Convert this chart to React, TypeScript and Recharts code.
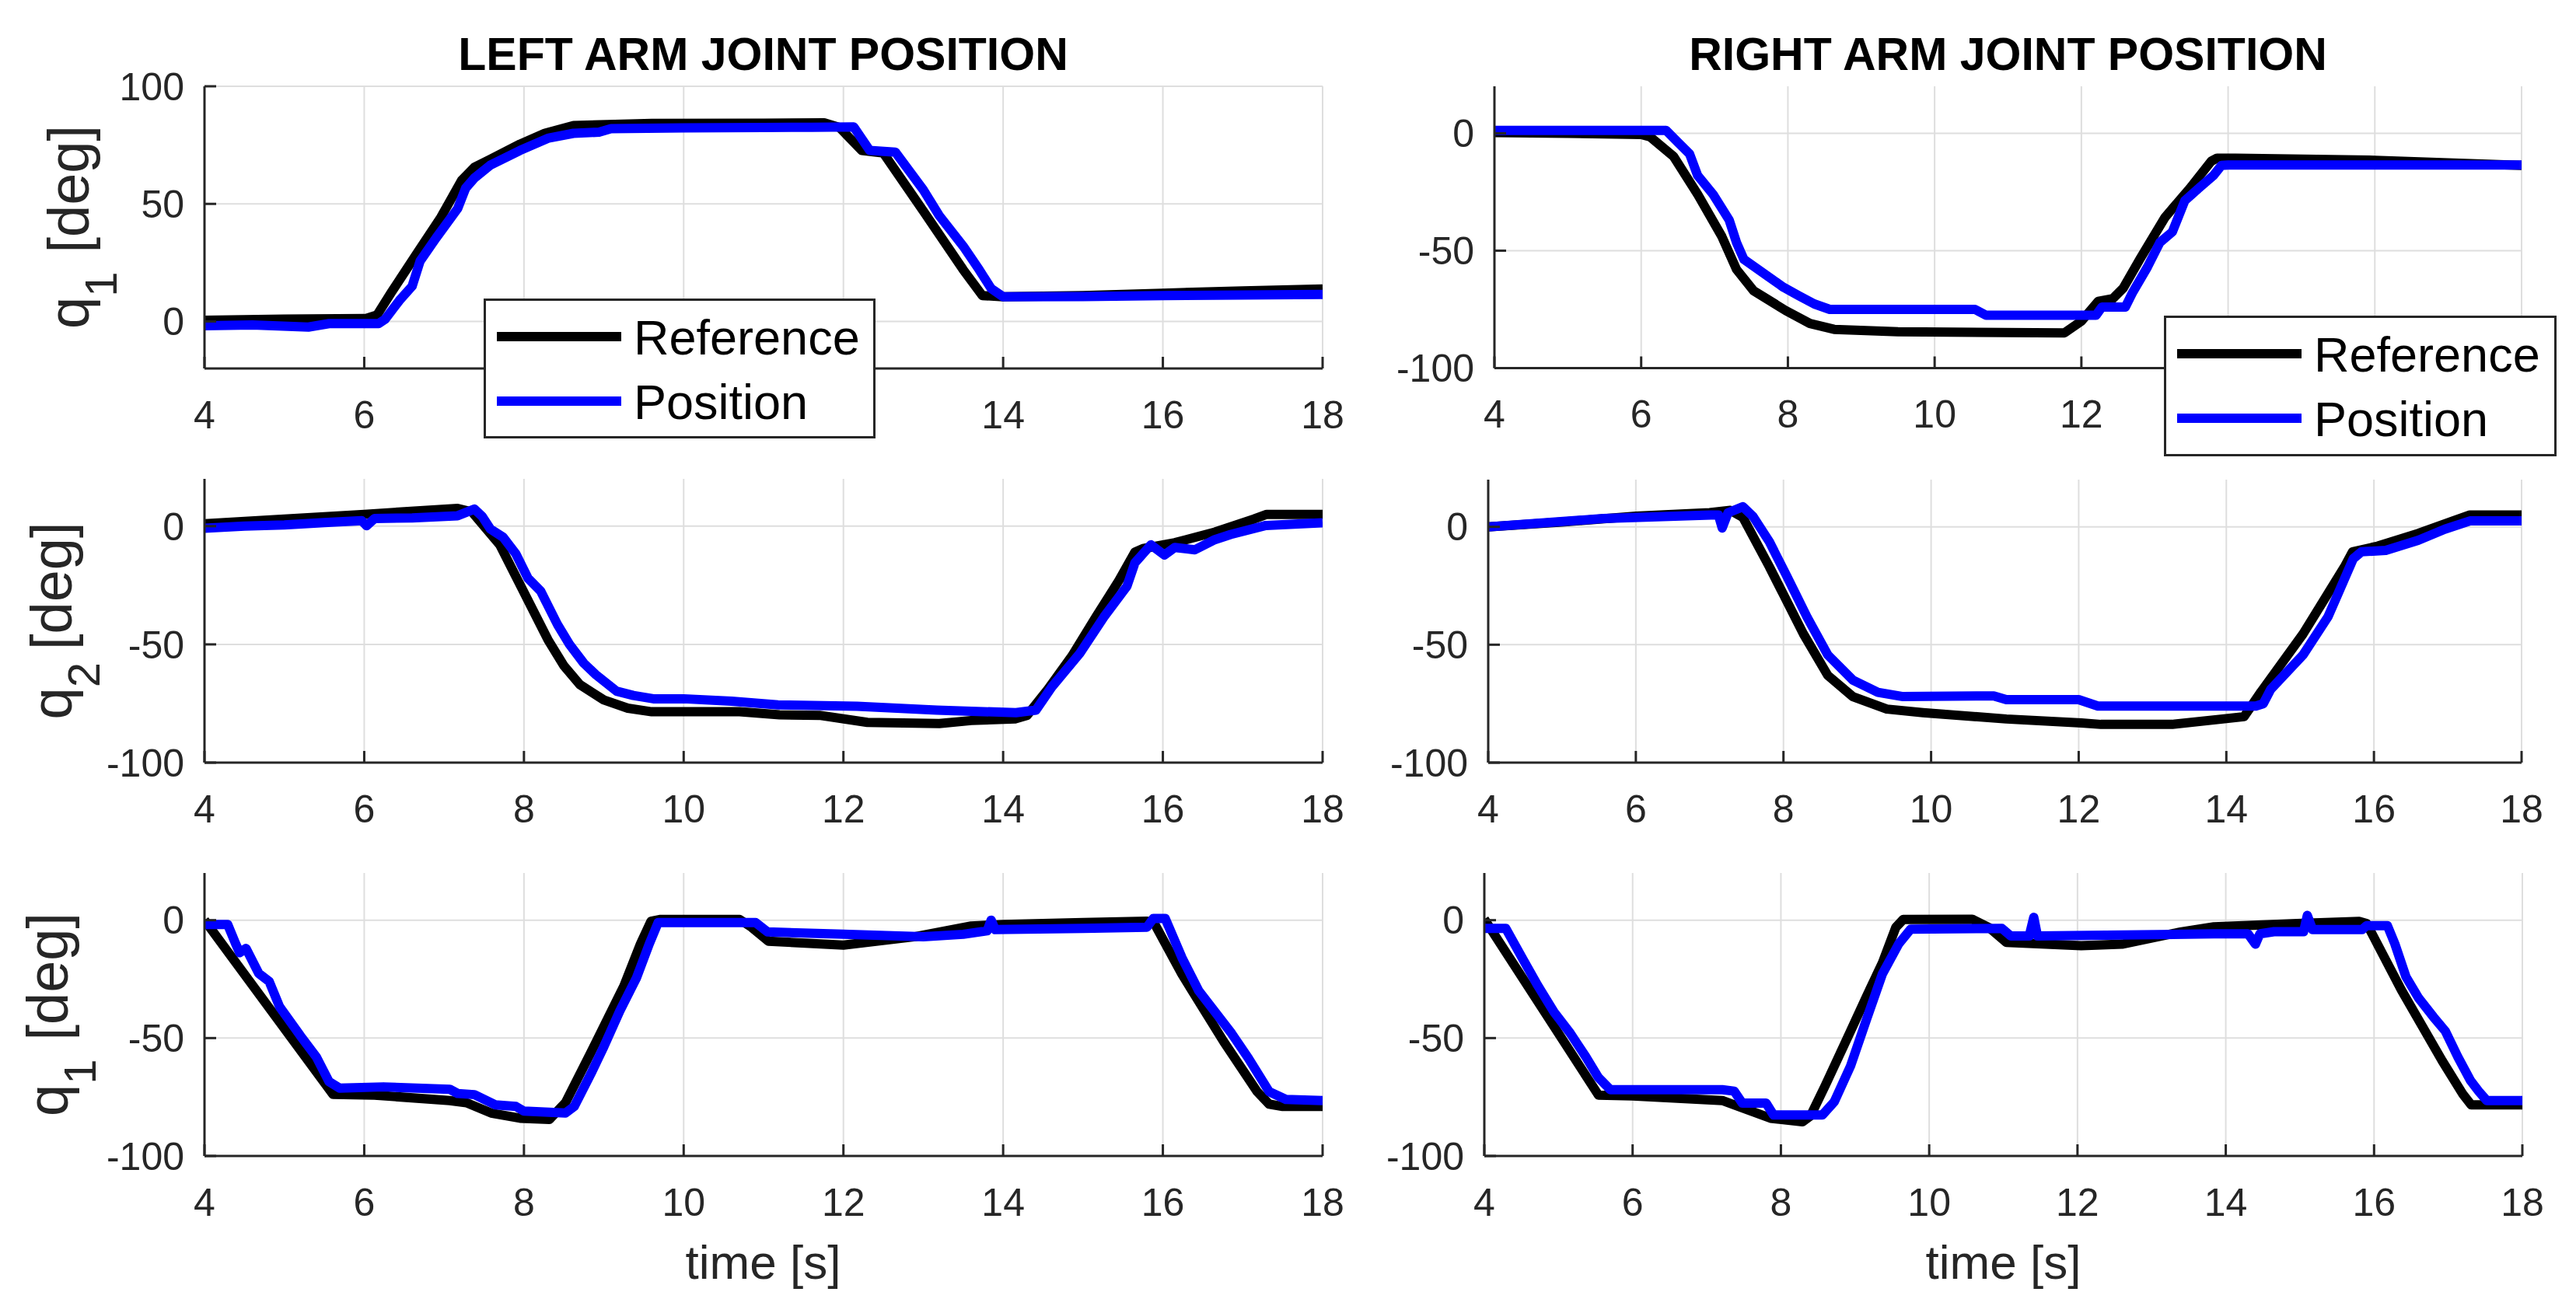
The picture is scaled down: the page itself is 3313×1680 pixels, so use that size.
import React from 'react';
import { LineChart, Line, XAxis, YAxis, CartesianGrid, Legend } from 'recharts';

type Pair = [number, number];

// ---------- axes / labels ----------
const TIME_TICKS = [4, 6, 8, 10, 12, 14, 16, 18];
const TIME_DOMAIN: [number, number] = [4, 18];
const UPPER_Y_TICKS = [0, 50, 100];
const UPPER_Y_DOMAIN: [number, number] = [-20, 100];
const LOWER_Y_TICKS = [-100, -50, 0];
const LOWER_Y_DOMAIN: [number, number] = [-100, 20];
const SERIES_NAMES = ['Reference', 'Position'];
const SERIES_COLORS = ['#000000', '#0000ff'];
const TITLES = ['LEFT ARM JOINT POSITION', 'RIGHT ARM JOINT POSITION'];
const X_LABEL = 'time [s]';
const Y_LABEL_SUBS = ['1', '2', '1'];
// tick labels hidden behind the legend boxes in the reference
const LEFT_LEGEND_COVERED_TICKS = [8, 10, 12];
const RIGHT_LEGEND_COVERED_TICKS = [14, 16, 18];

// ---------- data: [time s, angle deg] ----------
const leftQ1Reference: Pair[] = [[4,0.5],[5,1],[6,1.2],[6.03,1.3],[6.16,2.7],[6.34,12.4],[6.65,28.4],[6.96,44.3],[7.22,60],[7.38,65.6],[7.58,69],[7.95,75.4],[8.26,80],[8.62,83.3],[9.6,84.2],[11,84.3],[11.76,84.5],[11.95,82.5],[12.23,72.7],[12.5,71.6],[13,47],[13.5,22],[13.74,11],[14,10.5],[15,11],[16,12],[17,13],[18,13.8]];
const leftQ1Position: Pair[] = [[4,-1.8],[4.6,-1.5],[5.3,-2.4],[5.56,-0.9],[6.18,-0.9],[6.26,0.9],[6.44,8.9],[6.6,15],[6.7,25.7],[6.9,35.5],[7.17,48],[7.27,56.7],[7.38,61],[7.58,66.5],[7.95,72.7],[8.31,78],[8.62,80],[8.94,80.5],[9.09,82],[10,82.3],[11,82.5],[11.6,82.6],[12.13,82.7],[12.33,72.7],[12.65,72],[13,56],[13.2,45],[13.5,32],[13.7,22],[13.85,14],[14,10.5],[15,10.6],[16,11],[17,11.2],[18,11.5]];

const leftQ2Reference: Pair[] = [[4,1],[5,3],[6,5],[7.17,7.5],[7.35,6],[7.7,-8],[8,-28],[8.3,-48],[8.5,-59],[8.7,-67],[9,-73.5],[9.3,-77],[9.6,-78.5],[10.7,-78.5],[11.2,-79.8],[11.7,-80],[12.3,-83],[13.2,-83.5],[13.6,-82.2],[14.15,-81.5],[14.3,-80],[14.56,-69],[14.86,-55],[15.16,-38.5],[15.45,-23],[15.65,-11],[15.75,-9.5],[16.15,-7],[16.65,-2.5],[17.14,3],[17.3,5],[18,5]];
const leftQ2Position: Pair[] = [[4,-0.9],[4.5,0],[5,0.5],[5.5,1.5],[5.97,2.3],[6.03,0.2],[6.13,3.2],[6.6,3.5],[7.17,4.4],[7.38,7.2],[7.48,4],[7.58,-1.2],[7.74,-4.7],[7.9,-11.8],[8.05,-22],[8.21,-27.5],[8.42,-41.6],[8.57,-50],[8.75,-58],[8.9,-62.8],[9.16,-69.8],[9.37,-71.6],[9.62,-73],[10,-73],[10.6,-74],[11.18,-75.6],[12.17,-76.2],[13.17,-77.8],[14.16,-78.9],[14.41,-77.8],[14.61,-68],[14.96,-53.8],[15.26,-38.5],[15.55,-25.4],[15.65,-15.5],[15.85,-7.9],[16.02,-12.2],[16.15,-9],[16.4,-10],[16.65,-5.7],[16.85,-3.5],[17.29,0.3],[18,1.4]];

const leftQ3Reference: Pair[] = [[4,0],[5.61,-73.9],[6.13,-74.2],[7.07,-76.5],[7.28,-77.4],[7.59,-81.8],[7.95,-84],[8.32,-84.5],[8.52,-77.4],[8.84,-56],[9.25,-28],[9.46,-10],[9.59,-0.5],[9.7,0.3],[10.7,0.3],[10.85,-3],[11.06,-8.9],[12,-10.6],[12.9,-7],[13.6,-2.5],[14,-1.8],[15,-1],[15.8,-0.4],[15.9,-1.8],[16.24,-23],[16.76,-51.4],[17.18,-72.7],[17.33,-78],[17.5,-79],[18,-79]];
const leftQ3Position: Pair[] = [[4,-1.8],[4.29,-1.8],[4.39,-10],[4.44,-13.8],[4.52,-12],[4.68,-22.6],[4.81,-26],[4.94,-36.7],[5.2,-49],[5.4,-58],[5.56,-68.5],[5.69,-71.2],[6.24,-70.7],[7.07,-71.7],[7.17,-73.5],[7.38,-74],[7.64,-78.3],[7.9,-79],[8,-81],[8.52,-81.8],[8.63,-79],[8.84,-65],[8.99,-54.4],[9.2,-38.5],[9.41,-24.4],[9.57,-10],[9.68,-1],[10.9,-1],[11.05,-5],[12,-6],[13,-7],[13.5,-6],[13.8,-4.5],[13.85,0],[13.9,-4],[15,-3.5],[15.8,-3],[15.88,0.7],[16.03,0.7],[16.24,-16],[16.45,-30],[16.86,-48],[17.07,-58.5],[17.33,-72.7],[17.54,-76],[18,-76.5]];

const rightQ1Reference: Pair[] = [[4,0.3],[5,0],[6,-0.5],[6.12,-1.5],[6.44,-9.8],[6.77,-26],[7.1,-44],[7.3,-58],[7.53,-67],[7.97,-75.5],[8.3,-81],[8.63,-83.5],[9.5,-84.5],[11.77,-85],[12,-80],[12.23,-71.6],[12.43,-70.4],[12.57,-66],[12.8,-53.5],[13.14,-35.8],[13.48,-23.4],[13.77,-11.9],[13.85,-10.6],[14.1,-10.6],[16,-11.5],[18,-13.7]];
const rightQ1Position: Pair[] = [[4,1.2],[6.34,1.2],[6.5,-3.8],[6.66,-8.8],[6.77,-18],[6.98,-26],[7.2,-37],[7.3,-46.6],[7.4,-53.7],[7.73,-61],[7.94,-65.6],[8.15,-69.2],[8.36,-72.7],[8.57,-75],[9,-75],[10.55,-75],[10.7,-77.5],[12.2,-77.5],[12.28,-74],[12.6,-74],[12.7,-67.7],[12.9,-57],[13.07,-46.5],[13.24,-42],[13.41,-28.7],[13.6,-23.4],[13.8,-18],[13.91,-13.7],[14,-13.5],[18,-13.5]];

const rightQ2Reference: Pair[] = [[4,0],[5,2],[6,4.5],[7,6],[7.28,7],[7.45,4],[7.81,-17],[8.27,-45.4],[8.6,-63],[8.94,-72],[9.4,-77.3],[9.89,-78.8],[11.02,-81.5],[12.04,-83.2],[12.3,-83.8],[13.27,-83.8],[13.95,-81.5],[14.24,-80.5],[14.47,-70],[15.04,-45.4],[15.6,-17],[15.71,-10.6],[16.05,-8.2],[16.6,-2.8],[17.07,2.5],[17.3,5],[18,5]];
const rightQ2Position: Pair[] = [[4,0],[5.56,3.5],[7.02,5],[7.12,5],[7.17,-0.5],[7.25,6],[7.45,8.5],[7.59,4.3],[7.81,-6.4],[8.04,-20.6],[8.32,-38.3],[8.6,-54.3],[8.94,-65],[9.28,-70.2],[9.62,-72],[10.85,-71.7],[11.02,-73.3],[12,-73.3],[12.26,-76],[14.4,-76],[14.5,-75],[14.6,-69],[15.04,-54.3],[15.38,-38],[15.72,-13.5],[15.83,-10.6],[16.16,-10],[16.6,-5.7],[16.96,-1],[17.3,2.5],[18,2.5]];

const rightQ3Reference: Pair[] = [[4,0.5],[5.54,-74.2],[6,-74.5],[7.21,-76.5],[7.43,-79],[7.86,-84],[8.29,-85.5],[8.4,-83],[8.6,-70],[8.94,-47],[9.16,-32],[9.37,-18],[9.55,-3],[9.65,0.3],[10.58,0.4],[10.81,-3.2],[11.04,-9.4],[12.05,-10.8],[12.6,-10.2],[13.39,-5],[13.84,-2.8],[14.96,-1.4],[15.8,-0.5],[15.9,-1.4],[16.37,-29.7],[16.92,-59.7],[17.2,-73.9],[17.31,-78.3],[18,-78.3]];
const rightQ3Position: Pair[] = [[4,-3.5],[4.29,-3.5],[4.51,-16],[4.72,-27.7],[4.94,-39],[5.16,-48],[5.37,-58],[5.54,-66.8],[5.7,-71.9],[7.21,-71.9],[7.37,-72.5],[7.48,-77.6],[7.8,-77.6],[7.9,-82.6],[8.56,-82.6],[8.72,-77],[8.94,-61.8],[9.16,-41.6],[9.37,-22.7],[9.59,-10],[9.75,-3.8],[10.98,-3.5],[11.1,-6.7],[11.35,-6.7],[11.41,1.2],[11.46,-6.7],[13.84,-5.8],[14.3,-5.8],[14.4,-10.2],[14.46,-5.8],[14.65,-4.9],[15.05,-4.9],[15.1,2],[15.17,-4],[15.84,-4],[15.9,-2.3],[16.18,-2.3],[16.28,-10],[16.43,-24],[16.6,-33],[16.8,-41],[16.96,-47],[17.13,-58],[17.3,-68],[17.41,-72.5],[17.52,-76.5],[18,-76.5]];

// ---------- styling ----------
const FONT = '"Liberation Sans", Arial, Helvetica, sans-serif';
const AXIS_COLOR = '#262626';
const GRID_COLOR = '#dedede';
const LINE_WIDTH = 12;

const toRows = (pairs: Pair[]) => pairs.map(([t, v]) => ({ t, v }));

interface PanelSpec {
  left: number; top: number; width: number; height: number;
  ref: Pair[]; pos: Pair[];
  yDomain: [number, number]; yTicks: number[];
  legend?: { x: number; y: number; w: number; h: number };
  coveredTicks: number[];
  z: number;
}

const PANELS: PanelSpec[] = [
  { left: 262.5, top: 110.5, width: 1438, height: 363, ref: leftQ1Reference, pos: leftQ1Position, yDomain: UPPER_Y_DOMAIN, yTicks: UPPER_Y_TICKS, legend: { x: 621.5, y: 383.5, w: 504, h: 180 }, coveredTicks: LEFT_LEGEND_COVERED_TICKS, z: 3 },
  { left: 262.5, top: 616, width: 1438, height: 365, ref: leftQ2Reference, pos: leftQ2Position, yDomain: LOWER_Y_DOMAIN, yTicks: LOWER_Y_TICKS, coveredTicks: [], z: 2 },
  { left: 262.5, top: 1123, width: 1438, height: 364, ref: leftQ3Reference, pos: leftQ3Position, yDomain: LOWER_Y_DOMAIN, yTicks: LOWER_Y_TICKS, coveredTicks: [], z: 1 },
  { left: 1922, top: 110.5, width: 1321, height: 362.5, ref: rightQ1Reference, pos: rightQ1Position, yDomain: LOWER_Y_DOMAIN, yTicks: LOWER_Y_TICKS, legend: { x: 2782.5, y: 406, w: 505, h: 181 }, coveredTicks: RIGHT_LEGEND_COVERED_TICKS, z: 3 },
  { left: 1914, top: 617, width: 1329, height: 364, ref: rightQ2Reference, pos: rightQ2Position, yDomain: LOWER_Y_DOMAIN, yTicks: LOWER_Y_TICKS, coveredTicks: [], z: 2 },
  { left: 1909, top: 1123, width: 1335, height: 364, ref: rightQ3Reference, pos: rightQ3Position, yDomain: LOWER_Y_DOMAIN, yTicks: LOWER_Y_TICKS, coveredTicks: [], z: 1 },
];

const ML = 250;
const MT = 40;
const MR = 80;
const XH = 110;
const TICK_FONT = 50;

function LegendBox({ payload, w, h }: { payload?: any[]; w: number; h: number }) {
  const items = SERIES_NAMES.map((n, i) => {
    const found = (payload || []).find((p: any) => p && p.value === n);
    return { value: n, color: (found && found.color) || SERIES_COLORS[i] };
  });
  const rows = [49, 132];
  return (
    <svg width={w} height={h} style={{ display: 'block', overflow: 'visible' }}>
      <rect x={1.5} y={1.5} width={w - 3} height={h - 3} fill="#ffffff" stroke={AXIS_COLOR} strokeWidth={3} />
      {items.map((it, i) => (
        <g key={i}>
          <line x1={17} x2={177} y1={rows[i]} y2={rows[i]} stroke={it.color} strokeWidth={12} />
          <text x={193} y={rows[i] + 23} fontSize={63} fontFamily={FONT} fill="#000000">{it.value}</text>
        </g>
      ))}
    </svg>
  );
}

function makeXTick(covered: number[]) {
  return (props: any) => {
    const { x, y, payload } = props;
    if (covered.indexOf(payload.value) >= 0) return <g />;
    return (
      <text x={x} y={y} dy={TICK_FONT * 0.71} textAnchor="middle" fontSize={TICK_FONT} fontFamily={FONT} fill={AXIS_COLOR}>
        {payload.value}
      </text>
    );
  };
}

function Panel({ spec }: { spec: PanelSpec }) {
  const W = spec.width + ML + MR;
  const H = spec.height + MT + XH;
  const cLeft = spec.left - ML;
  const cTop = spec.top - MT;
  const tickStyle = { fill: AXIS_COLOR, fontSize: TICK_FONT, fontFamily: FONT };
  const lineStyle = { stroke: AXIS_COLOR, strokeWidth: 3 };
  return (
    <div style={{ position: 'absolute', left: cLeft, top: cTop, zIndex: spec.z }}>
      <LineChart width={W} height={H} margin={{ top: MT, right: MR, bottom: 0, left: 0 }}>
        <CartesianGrid stroke={GRID_COLOR} strokeWidth={2} horizontalValues={spec.yTicks} verticalValues={TIME_TICKS} />
        <XAxis dataKey="t" type="number" domain={TIME_DOMAIN} ticks={TIME_TICKS} interval={0} allowDataOverflow
          height={XH} tickSize={-15} tickMargin={56} tick={makeXTick(spec.coveredTicks)} axisLine={lineStyle} tickLine={lineStyle} />
        <XAxis xAxisId="top" orientation="top" dataKey="t" type="number" domain={TIME_DOMAIN} ticks={TIME_TICKS} interval={0} allowDataOverflow
          height={0} tickSize={-15} tick={false} axisLine={lineStyle} tickLine={lineStyle} />
        <YAxis type="number" domain={spec.yDomain} ticks={spec.yTicks} interval={0} allowDataOverflow
          width={ML} tickSize={-15} tickMargin={41} tick={tickStyle} axisLine={lineStyle} tickLine={lineStyle} />
        <YAxis yAxisId="right" orientation="right" type="number" domain={spec.yDomain} ticks={spec.yTicks} interval={0} allowDataOverflow
          width={0} tickSize={-15} tick={false} axisLine={lineStyle} tickLine={lineStyle} />
        <Line data={toRows(spec.ref)} dataKey="v" name={SERIES_NAMES[0]} type="linear" stroke={SERIES_COLORS[0]} strokeWidth={LINE_WIDTH}
          strokeLinejoin="round" dot={false} activeDot={false} isAnimationActive={false} />
        <Line data={toRows(spec.pos)} dataKey="v" name={SERIES_NAMES[1]} type="linear" stroke={SERIES_COLORS[1]} strokeWidth={LINE_WIDTH}
          strokeLinejoin="round" dot={false} activeDot={false} isAnimationActive={false} />
        {spec.legend && (
          <Legend layout="vertical" align="center" verticalAlign="middle"
            wrapperStyle={{ left: spec.legend.x - cLeft, top: spec.legend.y - cTop, width: spec.legend.w, height: spec.legend.h, margin: 0, padding: 0 }}
            content={(props: any) => <LegendBox payload={props.payload} w={spec.legend!.w} h={spec.legend!.h} />} />
        )}
      </LineChart>
    </div>
  );
}

function YLabel({ x, y, sub, gapDx }: { x: number; y: number; sub: string; gapDx: number }) {
  return (
    <text transform={`translate(${x},${y}) rotate(-90)`} textAnchor="middle" fontSize={74} fontFamily={FONT} fill={AXIS_COLOR}>
      q<tspan fontSize={58} dy={36}>{sub}</tspan><tspan dy={-36} dx={gapDx}>[deg]</tspan>
    </text>
  );
}

export default function App() {
  return (
    <div style={{ position: 'absolute', left: 0, top: 0, width: 3313, height: 1680, background: '#ffffff', overflow: 'hidden', fontFamily: FONT }}>
      <svg width={3313} height={1680} style={{ position: 'absolute', left: 0, top: 0, zIndex: 0 }}>
        <text x={981.5} y={90} textAnchor="middle" fontSize={59} fontWeight="bold" fontFamily={FONT} fill="#000000">{TITLES[0]}</text>
        <text x={2582.5} y={90} textAnchor="middle" fontSize={59} fontWeight="bold" fontFamily={FONT} fill="#000000">{TITLES[1]}</text>
        <text x={981.5} y={1645} textAnchor="middle" fontSize={62} fontFamily={FONT} fill={AXIS_COLOR}>{X_LABEL}</text>
        <text x={2576.5} y={1645} textAnchor="middle" fontSize={62} fontFamily={FONT} fill={AXIS_COLOR}>{X_LABEL}</text>
        <YLabel x={114} y={292} sub={Y_LABEL_SUBS[0]} gapDx={24} />
        <YLabel x={92} y={798.5} sub={Y_LABEL_SUBS[1]} gapDx={16} />
        <YLabel x={87} y={1305} sub={Y_LABEL_SUBS[2]} gapDx={24} />
      </svg>
      {PANELS.map((p, i) => <Panel key={i} spec={p} />)}
    </div>
  );
}
